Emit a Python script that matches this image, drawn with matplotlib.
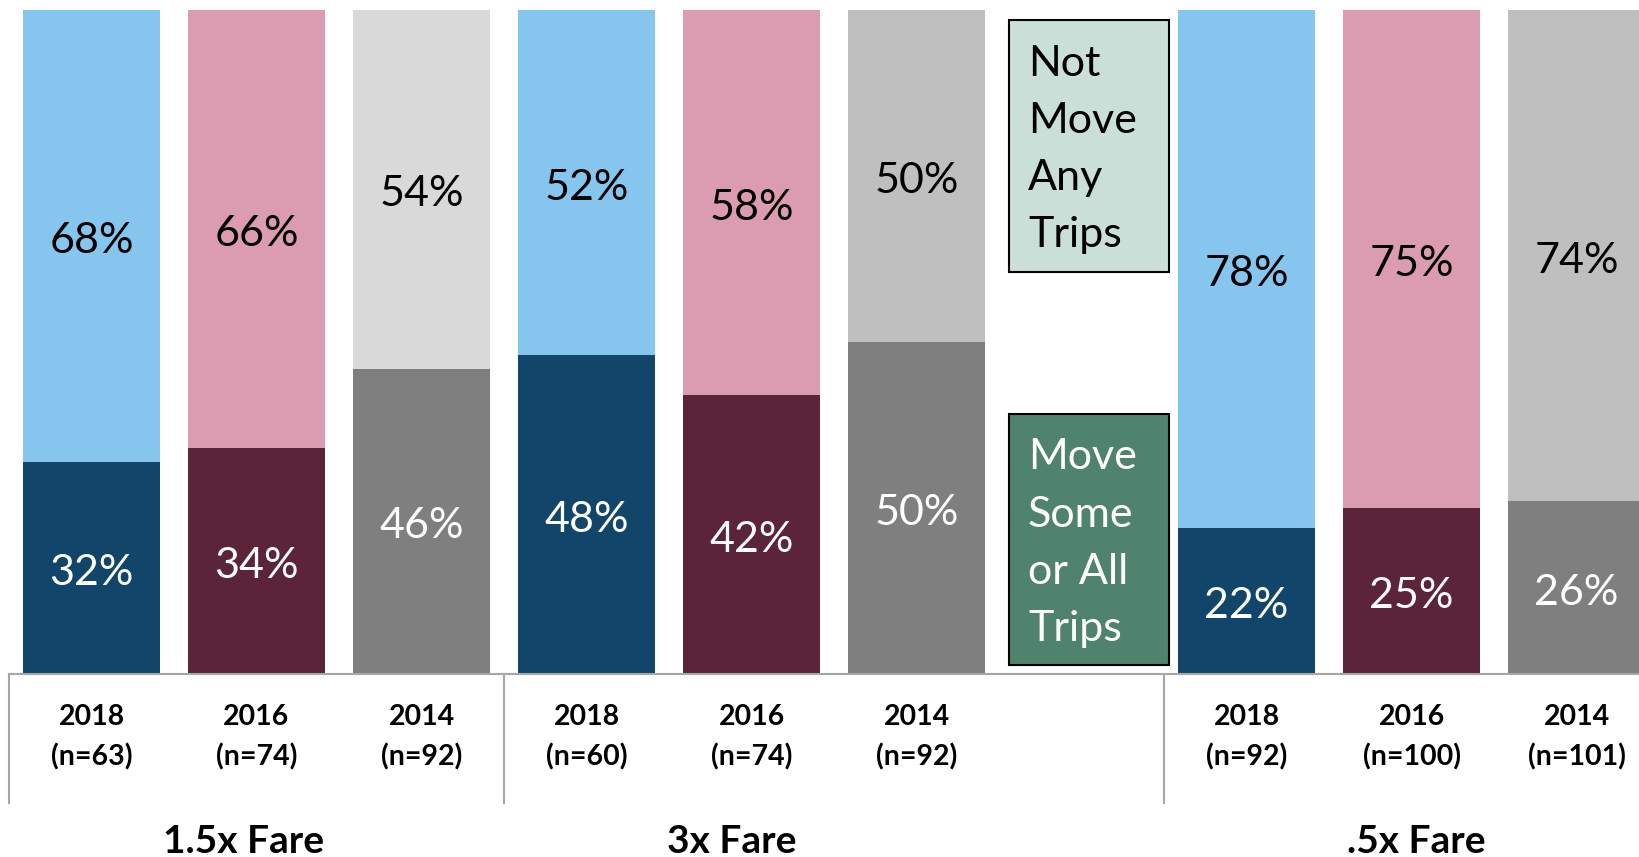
"""Stacked 100% bars: share of riders who would move trips at different fare levels, by survey year."""
import matplotlib
matplotlib.use("Agg")
import matplotlib.pyplot as plt
from matplotlib.patches import Rectangle
from matplotlib.transforms import blended_transform_factory, offset_copy

plt.rcParams["font.family"] = ["Lato", "DejaVu Sans"]

# Data per fare scenario (order: 2018, 2016, 2014)
groups = ["1.5x Fare", "3x Fare", ".5x Fare"]
years = ["2018", "2016", "2014"]
n_1_5x = [63, 74, 92]
n_3x = [60, 74, 92]
n_0_5x = [92, 100, 101]
move_1_5x = [32, 34, 46]
move_3x = [48, 42, 50]
move_0_5x = [22, 25, 26]
not_move_1_5x = [68, 66, 54]
not_move_3x = [52, 58, 50]
not_move_0_5x = [78, 75, 74]

# Slot positions on the x axis; slot 6 is left free for the key boxes
slots = [[0, 1, 2], [3, 4, 5], [7, 8, 9]]
group_label_x = [0.92, 3.88, 8.03]
separators = [-0.5, 2.5, 6.5]

DARK = {"2018": "#11466A", "2016": "#5C2438", "2014": "#7F7F7F"}
LIGHT = {"2018": "#85C5EE", "2016": "#DB9CB1", "2014": "#BFBFBF"}
LIGHT_2014_FIRST = "#D9D9D9"
KEY_LIGHT = "#C9DFD8"
KEY_DARK = "#50836E"
AXIS_GREY = "#A6A6A6"

fig = plt.figure(figsize=(16.39, 8.57), dpi=100)
ax = fig.add_axes([0.0, 183 / 857, 1.0, 664 / 857])
ax.set_xlim(-91.5 / 165, (1639 - 91.5) / 165)
ax.set_ylim(0, 100)

ns = [n_1_5x, n_3x, n_0_5x]
moves = [move_1_5x, move_3x, move_0_5x]
not_moves = [not_move_1_5x, not_move_3x, not_move_0_5x]

# nudge value labels down a little so the digits sit visually centred
label_tr = offset_copy(ax.transData, fig=fig, y=-3.7, units="points")

width = 137 / 165
for gi in range(3):
    for k, yr in enumerate(years):
        x = slots[gi][k]
        mv, nm = moves[gi][k], not_moves[gi][k]
        top_color = LIGHT[yr]
        if gi == 0 and yr == "2014":
            top_color = LIGHT_2014_FIRST
        ax.bar(x, mv, width=width, color=DARK[yr], linewidth=0)
        ax.bar(x, nm, bottom=mv, width=width, color=top_color, linewidth=0)
        ax.text(x, mv / 2, f"{mv}%", ha="center", va="center",
                fontsize=31, color="white", transform=label_tr)
        ax.text(x, mv + nm / 2, f"{nm}%", ha="center", va="center",
                fontsize=31, color="black", transform=label_tr)

# category labels under each bar
trans = blended_transform_factory(ax.transData, ax.transAxes)
for gi in range(3):
    for k, yr in enumerate(years):
        ax.text(slots[gi][k], -0.095, f"{yr}\n(n={ns[gi][k]})", transform=trans,
                ha="center", va="center", fontsize=20.5, fontweight="bold",
                linespacing=1.6, clip_on=False)
    ax.text(group_label_x[gi], -0.253, groups[gi], transform=trans,
            ha="center", va="center", fontsize=28, fontweight="bold",
            clip_on=False)

# base line and group separators
ax.plot([-0.5, 10], [0, 0], color=AXIS_GREY, lw=1.5, clip_on=False, zorder=3)
for sx in separators:
    ax.plot([sx, sx], [0, -0.194], transform=trans, color=AXIS_GREY,
            lw=1.5, clip_on=False)

# key boxes
box_x0 = (1009 - 91.5) / 165
box_w = 160 / 165
ax.add_patch(Rectangle((box_x0, 60.5), box_w, 38.0, facecolor=KEY_LIGHT,
                       edgecolor="black", lw=1.5, zorder=4))
ax.add_patch(Rectangle((box_x0, 1.4), box_w, 37.8, facecolor=KEY_DARK,
                       edgecolor="black", lw=1.5, zorder=4))
text_x = (1028 - 91.5) / 165
ax.text(text_x, 79.0, "Not\nMove\nAny\nTrips", ha="left", va="center",
        fontsize=31, color="black", linespacing=1.62, zorder=5)
ax.text(text_x, 19.7, "Move\nSome\nor All\nTrips", ha="left", va="center",
        fontsize=31, color="white", linespacing=1.62, zorder=5)

ax.axis("off")
fig.savefig("out.png", dpi=100)
